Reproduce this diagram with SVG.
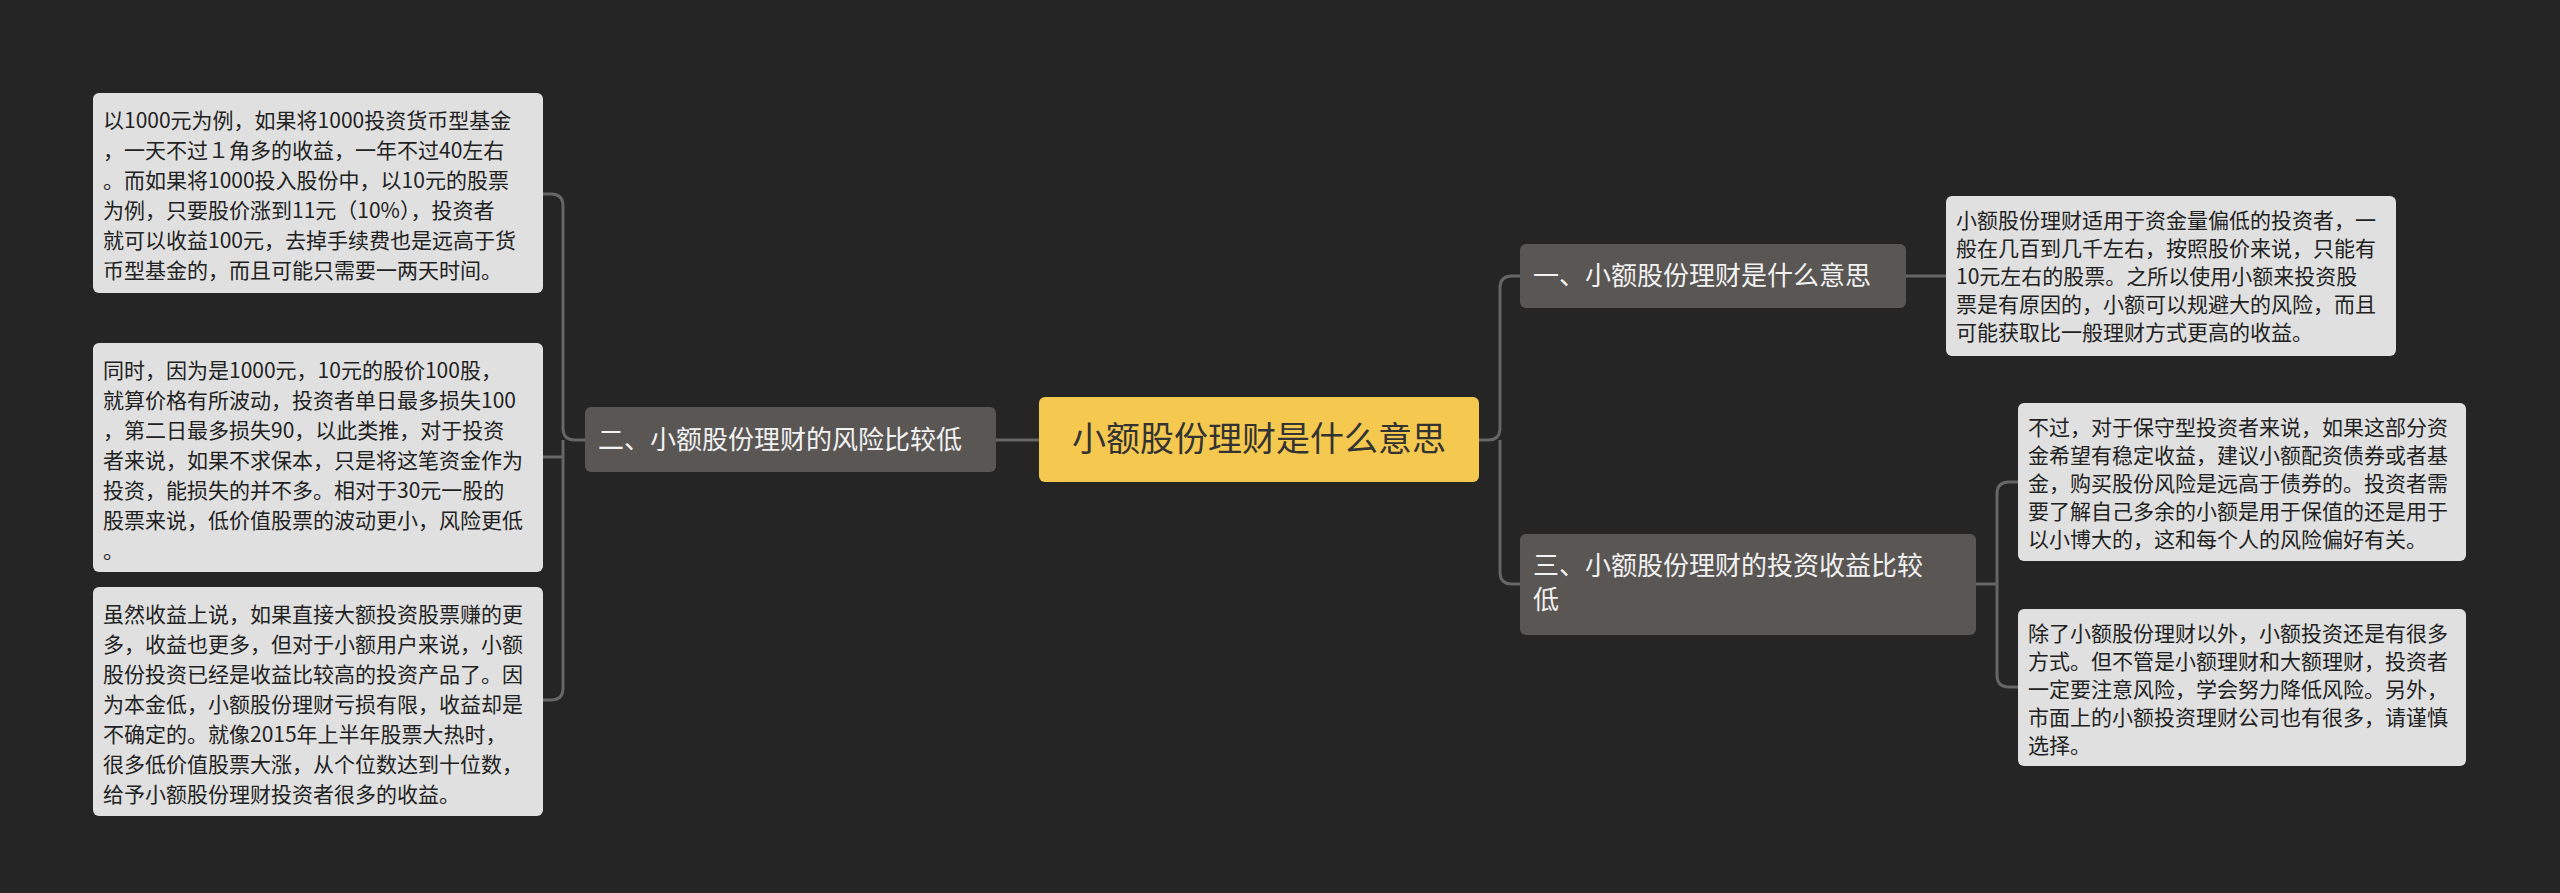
<svg xmlns="http://www.w3.org/2000/svg" width="2560" height="893" viewBox="0 0 2560 893">
<style>
text{font-family:"Noto Sans CJK SC","Noto Sans",sans-serif}
.d{fill:#e0e0e0}
.dt{font-size:21px;fill:#222}
.b{fill:#5a5654}
.bt{font-size:26px;fill:#f2f2f2}
.c{fill:none;stroke:#666;stroke-width:3}
</style>
<rect width="2560" height="893" fill="#252525"/>
<g id="connectors">
<path class="c" d="M1039 440H996"/>
<path class="c" d="M585 440H575Q563 440 563 428V206Q563 194 551 194H543M563 440V688Q563 700 551 700H543M563 457H543"/>
<path class="c" d="M1479 440H1488Q1500 440 1500 428V288Q1500 276 1512 276H1520M1500 440V572Q1500 584 1512 584H1520"/>
<path class="c" d="M1906 276H1946"/>
<path class="c" d="M1976 584H1997M1997 584V494Q1997 482 2009 482H2018M1997 584V675Q1997 687 2009 687H2018"/>
</g>
<g id="root"><rect x="1039" y="397" width="440" height="85" rx="6" fill="#f5c94f"/><text x="1259" y="451" text-anchor="middle" font-size="34" fill="#333">小额股份理财是什么意思</text></g>
<g id="n2"><rect class="b" x="585" y="407" width="411" height="65" rx="6"/><text class="bt" x="598" y="449">二、小额股份理财的风险比较低</text></g>
<g id="n1"><rect class="b" x="1520" y="244" width="386" height="64" rx="6"/><text class="bt" x="1533" y="285">一、小额股份理财是什么意思</text></g>
<g id="n3"><rect class="b" x="1520" y="534" width="456" height="101" rx="6"/><text class="bt" x="1533" y="575">三、小额股份理财的投资收益比较<tspan x="1533" dy="34">低</tspan></text></g>
<g id="l1"><rect class="d" x="93" y="93" width="450" height="200" rx="6"/><text class="dt" x="103" y="128"><tspan x="103">以1000元为例，如果将1000投资货币型基金</tspan><tspan x="103" dy="30">，一天不过１角多的收益，一年不过40左右</tspan><tspan x="103" dy="30">。而如果将1000投入股份中，以10元的股票</tspan><tspan x="103" dy="30">为例，只要股价涨到11元（10%），投资者</tspan><tspan x="103" dy="30">就可以收益100元，去掉手续费也是远高于货</tspan><tspan x="103" dy="30">币型基金的，而且可能只需要一两天时间。</tspan></text></g>
<g id="l2"><rect class="d" x="93" y="343" width="450" height="229" rx="6"/><text class="dt" x="103" y="378"><tspan x="103">同时，因为是1000元，10元的股价100股，</tspan><tspan x="103" dy="30">就算价格有所波动，投资者单日最多损失100</tspan><tspan x="103" dy="30">，第二日最多损失90，以此类推，对于投资</tspan><tspan x="103" dy="30">者来说，如果不求保本，只是将这笔资金作为</tspan><tspan x="103" dy="30">投资，能损失的并不多。相对于30元一股的</tspan><tspan x="103" dy="30">股票来说，低价值股票的波动更小，风险更低</tspan><tspan x="103" dy="30">。</tspan></text></g>
<g id="l3"><rect class="d" x="93" y="587" width="450" height="229" rx="6"/><text class="dt" x="103" y="622"><tspan x="103">虽然收益上说，如果直接大额投资股票赚的更</tspan><tspan x="103" dy="30">多，收益也更多，但对于小额用户来说，小额</tspan><tspan x="103" dy="30">股份投资已经是收益比较高的投资产品了。因</tspan><tspan x="103" dy="30">为本金低，小额股份理财亏损有限，收益却是</tspan><tspan x="103" dy="30">不确定的。就像2015年上半年股票大热时，</tspan><tspan x="103" dy="30">很多低价值股票大涨，从个位数达到十位数，</tspan><tspan x="103" dy="30">给予小额股份理财投资者很多的收益。</tspan></text></g>
<g id="r1"><rect class="d" x="1946" y="196" width="450" height="160" rx="6"/><text class="dt" x="1956" y="228"><tspan x="1956">小额股份理财适用于资金量偏低的投资者，一</tspan><tspan x="1956" dy="28">般在几百到几千左右，按照股价来说，只能有</tspan><tspan x="1956" dy="28">10元左右的股票。之所以使用小额来投资股</tspan><tspan x="1956" dy="28">票是有原因的，小额可以规避大的风险，而且</tspan><tspan x="1956" dy="28">可能获取比一般理财方式更高的收益。</tspan></text></g>
<g id="r2"><rect class="d" x="2018" y="403" width="448" height="158" rx="6"/><text class="dt" x="2028" y="435"><tspan x="2028">不过，对于保守型投资者来说，如果这部分资</tspan><tspan x="2028" dy="28">金希望有稳定收益，建议小额配资债券或者基</tspan><tspan x="2028" dy="28">金，购买股份风险是远高于债券的。投资者需</tspan><tspan x="2028" dy="28">要了解自己多余的小额是用于保值的还是用于</tspan><tspan x="2028" dy="28">以小博大的，这和每个人的风险偏好有关。</tspan></text></g>
<g id="r3"><rect class="d" x="2018" y="609" width="448" height="157" rx="6"/><text class="dt" x="2028" y="641"><tspan x="2028">除了小额股份理财以外，小额投资还是有很多</tspan><tspan x="2028" dy="28">方式。但不管是小额理财和大额理财，投资者</tspan><tspan x="2028" dy="28">一定要注意风险，学会努力降低风险。另外，</tspan><tspan x="2028" dy="28">市面上的小额投资理财公司也有很多，请谨慎</tspan><tspan x="2028" dy="28">选择。</tspan></text></g>
</svg>
